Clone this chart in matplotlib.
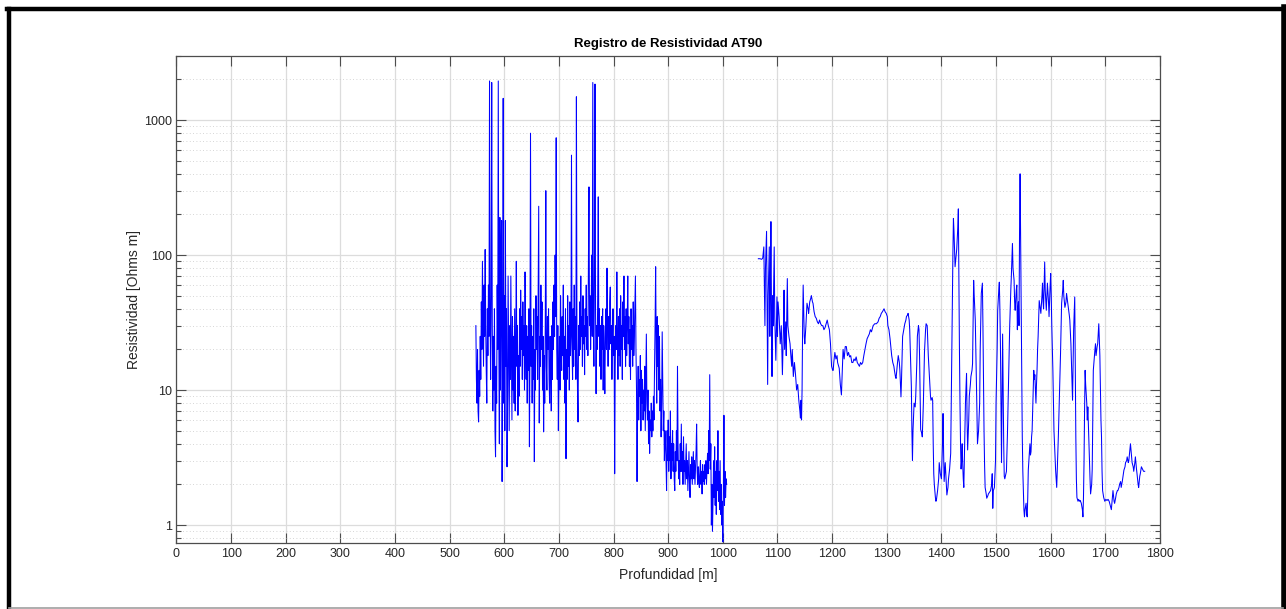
import matplotlib
matplotlib.use("Agg")
import matplotlib.pyplot as plt
import numpy as np
from matplotlib.lines import Line2D
from matplotlib.ticker import LogLocator, FixedLocator, NullFormatter, FuncFormatter

plt.rcParams['font.family'] = ['Liberation Sans', 'DejaVu Sans']

# Tramo 1 del registro (profundidad [m], resistividad [Ohms m])
prof_1 = [548, 549, 550, 551, 552, 553, 554, 555, 556, 557, 558, 559, 560, 561, 562, 563, 564, 565, 566, 567,
          568, 569, 570, 571, 572, 573, 574, 575, 576, 577, 578, 579, 580, 581, 582, 583, 584, 585, 586, 587,
          588, 589, 590, 591, 592, 593, 594, 595, 596, 597, 598, 599, 600, 601, 602, 603, 604, 605, 606, 607,
          608, 609, 610, 611, 612, 613, 614, 615, 616, 617, 618, 619, 620, 621, 622, 623, 624, 625, 626, 627,
          628, 629, 630, 631, 632, 633, 634, 635, 636, 637, 638, 639, 640, 641, 642, 643, 644, 645, 646, 647,
          648, 649, 650, 651, 652, 653, 654, 655, 656, 657, 658, 659, 660, 661, 662, 663, 664, 665, 666, 667,
          668, 669, 670, 671, 672, 673, 674, 675, 676, 677, 678, 679, 680, 681, 682, 683, 684, 685, 686, 687,
          688, 689, 690, 691, 692, 693, 694, 695, 696, 697, 698, 699, 700, 701, 702, 703, 704, 705, 706, 707,
          708, 709, 710, 711, 712, 713, 714, 715, 716, 717, 718, 719, 720, 721, 722, 723, 724, 725, 726, 727,
          728, 729, 730, 731, 732, 733, 734, 735, 736, 737, 738, 739, 740, 741, 742, 743, 744, 745, 746, 747,
          748, 749, 750, 751, 752, 753, 754, 755, 756, 757, 758, 759, 760, 761, 762, 763, 764, 765, 766, 767,
          768, 769, 770, 771, 772, 773, 774, 775, 776, 777, 778, 779, 780, 781, 782, 783, 784, 785, 786, 787,
          788, 789, 790, 791, 792, 793, 794, 795, 796, 797, 798, 799, 800, 801, 802, 803, 804, 805, 806, 807,
          808, 809, 810, 811, 812, 813, 814, 815, 816, 817, 818, 819, 820, 821, 822, 823, 824, 825, 826, 827,
          828, 829, 830, 831, 832, 833, 834, 835, 836, 837, 838, 839, 840, 841, 842, 843, 844, 845, 846, 847,
          848, 849, 850, 851, 852, 853, 854, 855, 856, 857, 858, 859, 860, 861, 862, 863, 864, 865, 866, 867,
          868, 869, 870, 871, 872, 873, 874, 875, 876, 877, 878, 879, 880, 881, 882, 883, 884, 885, 886, 887,
          888, 889, 890, 891, 892, 893, 894, 895, 896, 897, 898, 899, 900, 901, 902, 903, 904, 905, 906, 907,
          908, 909, 910, 911, 912, 913, 914, 915, 916, 917, 918, 919, 920, 921, 922, 923, 924, 925, 926, 927,
          928, 929, 930, 931, 932, 933, 934, 935, 936, 937, 938, 939, 940, 941, 942, 943, 944, 945, 946, 947,
          948, 949, 950, 951, 952, 953, 954, 955, 956, 957, 958, 959, 960, 961, 962, 963, 964, 965, 966, 967,
          968, 969, 970, 971, 972, 973, 974, 975, 976, 977, 978, 979, 980, 981, 982, 983, 984, 985, 986, 987,
          988, 989, 990, 991, 992, 993, 994, 995, 996, 997, 998, 999, 1000, 1001, 1002, 1003, 1004, 1005, 1006, 1007]
res_1 = [30, 12, 8, 20, 7, 5.8, 14, 9, 25, 12, 45, 20, 90, 35, 15, 60, 25, 110, 30, 14,
         8, 40, 18, 60, 25, 1950, 40, 12, 50, 1900, 30, 7, 25, 10, 40, 5, 3.2, 15, 8, 60,
         20, 1950, 25, 4, 190, 10, 60, 180, 2.1, 20, 1450, 8, 50, 5, 180, 15, 40, 2.7, 9, 70,
         20, 5, 30, 12, 70, 18, 6, 35, 10, 25, 8, 40, 7, 20, 90, 15, 30, 6.5, 18, 9,
         40, 15, 55, 20, 35, 12, 45, 18, 30, 10, 75, 22, 12, 30, 8, 25, 14, 40, 3.8, 20,
         800, 15, 30, 8, 25, 12, 40, 2.95, 20, 10, 50, 20, 35, 12, 50, 230, 5.7, 25, 15, 60,
         20, 45, 10, 25, 4.9, 18, 8, 30, 300, 15, 10, 35, 20, 40, 12, 8, 25, 15, 7, 30,
         12, 45, 20, 60, 25, 100, 35, 740, 20, 12, 30, 5, 15, 25, 10, 50, 22, 14, 35, 18,
         60, 12, 25, 8, 40, 3.1, 20, 12, 50, 15, 30, 10, 45, 18, 25, 550, 20, 12, 40, 15,
         60, 20, 35, 12, 1490, 25, 10, 5.8, 30, 18, 45, 20, 70, 25, 35, 15, 50, 22, 30, 13,
         40, 25, 60, 20, 35, 18, 90, 320, 30, 50, 20, 40, 100, 25, 1900, 30, 15, 70, 1850, 40,
         9.4, 30, 20, 50, 270, 25, 40, 15, 30, 12, 35, 20, 40, 10, 30, 18, 9.4, 25, 40, 20,
         80, 30, 15, 35, 20, 45, 58, 22, 30, 12, 25, 40, 18, 25, 2.4, 15, 30, 20, 75, 25,
         12, 35, 18, 40, 15, 50, 20, 30, 12, 45, 25, 70, 20, 35, 15, 40, 18, 30, 70, 22,
         35, 15, 28, 12, 40, 20, 30, 15, 45, 18, 25, 40, 70, 20, 10, 2.1, 8, 15, 6, 12,
         9, 18, 5, 14, 8, 12, 6, 10, 7, 15, 5, 12, 26, 8, 6, 10, 4, 7, 3.4, 6,
         5, 8, 4.5, 7, 5, 9, 6, 15, 30, 82, 20, 8, 35, 15, 30, 10, 25, 7, 12, 4.5,
         8, 27, 12, 5, 7, 3, 5, 4, 3, 1.8, 5, 3, 6, 2.5, 4.5, 3, 7, 2.2, 4, 3,
         5, 2.5, 4, 2.2, 1.8, 3.5, 2.5, 5, 3, 15, 4, 2.2, 3, 2, 4, 2.5, 5.6, 2.5, 3.5, 2,
         4.5, 2.5, 3, 2, 2.8, 4, 2.2, 3, 1.8, 2.6, 3.5, 2, 1.6, 2.8, 2.2, 3.2, 2, 2.6, 3.5, 2.2,
         3, 2, 2.6, 3.5, 5.6, 2.5, 2, 2.7, 2.2, 1.9, 2.5, 3, 2, 2.5, 1.7, 2.8, 2.1, 2.5, 2, 2.8,
         2.2, 3, 2, 2.6, 3.4, 2.4, 5, 3, 13, 2.6, 4, 1.0, 2, 0.9, 1.5, 3, 1.6, 3.8, 1.4, 2.5,
         1.2, 3, 1.8, 5, 1.5, 2.5, 1.3, 3, 1.2, 2, 1.0, 1.5, 0.75, 1.8, 6.5, 1.4, 2.5, 1.6, 2.2, 2]

# Tramo 2 del registro
prof_2 = [1065, 1068, 1071, 1073, 1075, 1076, 1077, 1078, 1080, 1081, 1082, 1083, 1085, 1086, 1087, 1088, 1089, 1090,
          1091, 1092, 1094, 1095, 1097, 1098, 1099, 1100, 1101, 1103, 1105, 1107, 1109, 1111, 1112, 1113, 1115, 1116,
          1118, 1119, 1121, 1123, 1124, 1126, 1127, 1129, 1131, 1133, 1135, 1137, 1139, 1141, 1142, 1143, 1144, 1145,
          1146, 1147, 1148, 1149, 1150, 1152, 1154, 1156, 1157, 1159, 1161, 1162, 1164, 1165, 1167, 1169, 1171, 1173,
          1175, 1177, 1179, 1181, 1183, 1185, 1187, 1189, 1191, 1193, 1195, 1197, 1199, 1201, 1202, 1203, 1205, 1207,
          1209, 1210, 1212, 1213, 1215, 1217, 1218, 1220, 1222, 1224, 1226, 1228, 1230, 1232, 1234, 1236, 1238, 1240,
          1242, 1244, 1246, 1248, 1250, 1252, 1254, 1256, 1258, 1260, 1262, 1264, 1266, 1268, 1270, 1272, 1275, 1278,
          1281, 1284, 1286, 1288, 1290, 1292, 1295, 1297, 1299, 1301, 1302, 1304, 1306, 1308, 1309, 1311, 1313, 1314,
          1316, 1317, 1319, 1321, 1323, 1324, 1326, 1327, 1329, 1331, 1333, 1335, 1336, 1338, 1339, 1341, 1342, 1344,
          1345, 1346, 1347, 1348, 1350, 1352, 1353, 1355, 1356, 1358, 1359, 1360, 1361, 1362, 1364, 1365, 1367, 1369,
          1371, 1372, 1374, 1376, 1378, 1380, 1381, 1383, 1384, 1385, 1386, 1387, 1389, 1390, 1391, 1393, 1395, 1396,
          1398, 1400, 1402, 1403, 1404, 1405, 1406, 1407, 1409, 1410, 1412, 1413, 1415, 1417, 1418, 1419, 1420, 1421,
          1422, 1423, 1425, 1426, 1428, 1430, 1431, 1432, 1433, 1434, 1435, 1436, 1437, 1438, 1439, 1440, 1441, 1442,
          1443, 1444, 1446, 1447, 1448, 1450, 1451, 1453, 1454, 1456, 1457, 1458, 1459, 1460, 1462, 1463, 1464, 1465,
          1466, 1468, 1470, 1471, 1473, 1475, 1476, 1477, 1478, 1479, 1480, 1482, 1483, 1485, 1486, 1488, 1490, 1492,
          1493, 1494, 1495, 1497, 1499, 1500, 1502, 1503, 1505, 1506, 1507, 1508, 1509, 1510, 1511, 1512, 1513, 1514,
          1515, 1516, 1518, 1519, 1521, 1522, 1524, 1525, 1527, 1528, 1530, 1531, 1533, 1534, 1535, 1537, 1538, 1539,
          1540, 1541, 1542, 1543, 1544, 1545, 1546, 1547, 1548, 1549, 1550, 1551, 1552, 1553, 1555, 1556, 1557, 1558,
          1559, 1561, 1562, 1563, 1564, 1565, 1566, 1568, 1569, 1570, 1571, 1572, 1573, 1574, 1575, 1576, 1577, 1578,
          1579, 1581, 1582, 1584, 1585, 1586, 1587, 1588, 1589, 1590, 1592, 1593, 1594, 1596, 1597, 1599, 1600, 1601,
          1602, 1603, 1604, 1605, 1606, 1608, 1609, 1610, 1611, 1612, 1614, 1616, 1618, 1620, 1622, 1623, 1624, 1626,
          1628, 1629, 1631, 1632, 1634, 1635, 1637, 1638, 1640, 1641, 1642, 1644, 1645, 1646, 1647, 1648, 1650, 1651,
          1653, 1654, 1656, 1658, 1659, 1660, 1661, 1662, 1663, 1664, 1666, 1667, 1668, 1670, 1671, 1672, 1673, 1675,
          1676, 1677, 1678, 1680, 1681, 1682, 1683, 1685, 1686, 1687, 1688, 1689, 1690, 1691, 1692, 1693, 1694, 1695,
          1697, 1699, 1701, 1703, 1705, 1707, 1709, 1711, 1712, 1714, 1716, 1717, 1719, 1720, 1722, 1723, 1725, 1726,
          1728, 1729, 1731, 1733, 1734, 1736, 1737, 1739, 1740, 1742, 1743, 1745, 1746, 1748, 1749, 1751, 1752, 1754,
          1755, 1757, 1758, 1760, 1761, 1763, 1764, 1766, 1768, 1770, 1772]
res_2 = [94, 94, 93, 95, 115, 60, 30, 80, 150, 40, 11, 50, 115, 25, 60, 177, 40, 12.6,
         50, 30, 115, 35, 16.6, 30, 49, 25, 45, 35, 22, 30, 13, 30, 55, 20, 32, 18,
         67, 30, 25, 22, 19, 15, 20, 12.6, 16, 13, 10, 11, 8.4, 7, 6.2, 8.4, 6, 10,
         30, 60, 40, 25, 22, 30, 44, 40, 37, 45, 48, 50, 45, 44, 38, 35, 34, 32,
         31, 33, 31, 30, 30, 28, 29, 31, 33, 30, 28, 22, 15, 14, 14, 16, 19, 17,
         18, 16, 15, 14.5, 11, 9.2, 12, 20, 17, 21, 21, 18, 19, 17.6, 18, 16, 16, 17,
         16.5, 17.6, 16, 15.5, 15, 16, 15.5, 16, 18, 20, 22, 24, 25, 26, 28, 27, 30, 31,
         31, 32, 34, 35, 37, 38, 40, 38, 37, 35, 30, 28, 24, 20, 18, 16, 15, 14,
         12.5, 12.2, 15, 18, 16, 14, 8.9, 12, 25, 28, 31, 33, 35, 36, 37, 33, 28, 14,
         10.6, 5, 3.0, 5, 8, 7.5, 9, 16, 25, 30, 28, 18, 9, 5.1, 4.8, 4.5, 8, 19,
         28, 31, 30, 18, 12.6, 9, 8.4, 8.8, 8.4, 4, 2.4, 2.0, 1.6, 1.5, 1.55, 1.8, 2.2, 2.9,
         2.4, 2.2, 4, 6.7, 3.5, 2.1, 2.5, 2.9, 2.0, 1.67, 1.9, 2.2, 2.6, 3.4, 8, 20, 44, 100,
         187, 150, 82, 90, 110, 160, 220, 60, 20, 8, 4, 2.6, 3, 4, 2.8, 2.2, 1.9, 3,
         5, 8, 13.3, 6, 3.6, 6, 9, 11, 12.6, 14, 15.7, 30, 65, 50, 33, 20, 12.6, 7,
         4, 5, 8, 20, 52, 62, 30, 11.2, 5, 2.8, 1.9, 1.7, 1.58, 1.65, 1.7, 1.75, 1.8, 2.0,
         2.4, 1.33, 1.8, 1.9, 3, 8, 20, 39, 55, 63, 40, 22, 8, 2.9, 8, 26, 10, 4,
         2.3, 2.2, 2.4, 2.5, 5, 8, 22, 30, 55, 70, 122, 80, 65, 45, 39, 55, 60, 28,
         40, 45, 30, 150, 400, 120, 42, 15, 4.5, 2.5, 1.8, 1.3, 1.15, 1.3, 1.45, 1.2, 1.15, 1.6,
         2.55, 3.5, 4, 3.3, 3.5, 4.5, 5, 10, 14, 12, 13, 10, 8, 11, 14, 20, 25, 35,
         46, 40, 37, 50, 62, 45, 40, 60, 89, 55, 39, 50, 62, 45, 35, 60, 73, 50,
         30, 20, 14, 8, 5, 3.2, 2.55, 2.2, 1.9, 2.5, 4.5, 9, 18.6, 44, 55, 65, 50, 41,
         45, 52, 45, 42, 36, 33, 22, 15.7, 8.4, 15, 28, 49, 15, 4.5, 2.2, 1.6, 1.5, 1.55,
         1.5, 1.52, 1.45, 1.3, 1.15, 1.6, 2.9, 7, 14, 11, 8, 6, 7.5, 4, 3, 2.2, 1.7, 2,
         2.6, 6, 14, 18, 20, 22, 18, 21, 22, 26, 31, 24, 18, 10, 6, 4.5, 2.5, 1.8,
         1.6, 1.5, 1.55, 1.52, 1.55, 1.5, 1.4, 1.3, 1.45, 1.8, 1.5, 1.45, 1.6, 1.7, 1.8, 1.8, 1.9, 2.0,
         2.1, 1.9, 2.1, 2.4, 2.55, 2.7, 2.9, 3.0, 3.2, 2.9, 3.0, 3.6, 4, 3.2, 2.9, 2.7, 2.5, 2.9,
         3.2, 2.6, 2.4, 2.0, 1.9, 2.3, 2.4, 2.7, 2.6, 2.5, 2.5]

x_ticks = [0, 100, 200, 300, 400, 500, 600, 700, 800, 900, 1000, 1100, 1200, 1300, 1400, 1500, 1600, 1700, 1800]
y_ticks = [1, 10, 100, 1000]

fig = plt.figure(figsize=(12.86, 6.09), dpi=100)
ax = fig.add_axes([0.1372, 0.1089, 0.7648, 0.7996])

ax.plot(prof_1, res_1, color='#0000FF', linewidth=0.75)
ax.plot(prof_2, res_2, color='#0000FF', linewidth=0.75)

ax.set_yscale('log')
ax.set_xlim(0, 1800)
ax.set_ylim(0.74, 3000)
ax.set_xticks(x_ticks)
ax.yaxis.set_major_locator(FixedLocator(y_ticks))
ax.yaxis.set_major_formatter(FuncFormatter(lambda v, p: '%g' % v))
ax.yaxis.set_minor_locator(LogLocator(base=10, subs=np.arange(2, 10)))
ax.yaxis.set_minor_formatter(NullFormatter())

gris = '#262626'
ax.tick_params(which='both', direction='in', top=True, right=True, colors='#4d4d4d',
               labelcolor=gris, labelsize=9)
ax.tick_params(which='major', length=7, width=0.8)
ax.tick_params(which='minor', length=3.5, width=0.8)
for s in ax.spines.values():
    s.set_color('#4d4d4d')
    s.set_linewidth(0.9)

ax.grid(True, which='major', color='#dcdcdc', linewidth=0.9, linestyle='-')
ax.grid(True, which='minor', axis='y', color='#c8c8c8', linewidth=0.6, linestyle=(0, (1, 3)))
ax.set_axisbelow(True)

ax.set_title('Registro de Resistividad AT90', fontsize=9.5, fontweight='bold', color='#000000', pad=6)
ax.set_xlabel('Profundidad [m]', fontsize=10, color=gris, labelpad=6)
ax.set_ylabel('Resistividad [Ohms m]', fontsize=10, color=gris, labelpad=2)

# marco de la figura
fig.add_artist(Line2D([9 / 1286, 9 / 1286], [2 / 609, 600 / 609], color='black', linewidth=3.2, transform=fig.transFigure))
fig.add_artist(Line2D([7 / 1286, 1283 / 1286], [600 / 609, 600 / 609], color='black', linewidth=3.2, transform=fig.transFigure))
fig.add_artist(Line2D([1283.5 / 1286, 1283.5 / 1286], [2 / 609, 602 / 609], color='black', linewidth=4, transform=fig.transFigure))
fig.add_artist(Line2D([9 / 1286, 1283 / 1286], [1.5 / 609, 1.5 / 609], color='#a0a0a0', linewidth=1.2, transform=fig.transFigure))

fig.savefig('out.png', dpi=100)
